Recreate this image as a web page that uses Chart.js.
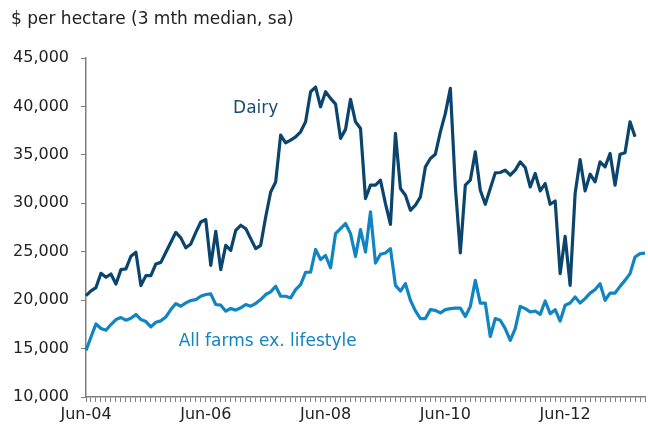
<!DOCTYPE html>
<html>
<head>
<meta charset="utf-8">
<script src="https://cdn.jsdelivr.net/npm/chart.js@4.4.1/dist/chart.umd.min.js"></script>
<style>
  html, body { margin: 0; padding: 0; background: #fff; }
  #wrap { width: 648px; height: 426px; position: relative; }
</style>
</head>
<body>
<div id="wrap"><canvas id="landChart"></canvas></div>
<script>
// monthly, Jun-04 to Oct-13
var startYear = 2004, startMonth = 5, monthCount = 113;
var tickLabels = ['Jun-04', 'Jun-06', 'Jun-08', 'Jun-10', 'Jun-12'];

var dairy = [
    20470, 20950, 21300, 22770, 22360, 22700, 21670, 23150, 23220, 24530,
    24940, 21500, 22530, 22530, 23740, 23900, 24940, 25980, 27000, 26430,
    25400, 25800, 27000, 28070, 28320, 23590, 27110, 23150, 25660, 25150,
    27210, 27730, 27390, 26350, 25320, 25660, 28590, 31170, 32200, 37040,
    36240, 36520, 36860, 37380, 38410, 41520, 42000, 39960, 41520, 40830,
    40240, 36700, 37630, 40730, 38410, 37730, 30490, 31870, 31870, 32380,
    29970, 27830, 37210, 31530, 30830, 29280, 29800, 30660, 33760, 34630,
    35070, 37380, 39280, 41870, 31690, 24870, 31870, 32380, 35310, 31350,
    29900, 31530, 33140, 33180, 33420, 32900, 33420, 34280, 33700, 31690,
    33080, 31280, 32040, 29900, 30240, 22740, 26590, 21520, 31010, 34520,
    31280, 33000, 32210, 34280, 33760, 35140, 31870, 35070, 35210, 38410,
    36860
];

var allFarms = [
    14800, 16200, 17550, 17070, 16890, 17480, 18000, 18200, 17930, 18130,
    18520, 18000, 17790, 17240, 17720, 17860, 18270, 19030, 19650, 19370,
    19720, 19960, 20060, 20400, 20580, 20650, 19550, 19480, 18860, 19140,
    18970, 19210, 19550, 19380, 19650, 20060, 20580, 20860, 21440, 20400,
    20400, 20230, 21090, 21610, 22880, 22880, 25230, 24200, 24610, 23340,
    26870, 27390, 27910, 26870, 24520, 27290, 24970, 29110, 23830, 24730,
    24870, 25320, 21530, 20940, 21700, 19990, 18890, 18100, 18100, 19020,
    18950, 18680, 19020, 19120, 19180, 19180, 18320, 19360, 22040, 19700,
    19700, 16250, 18100, 17920, 17060, 15840, 17060, 19360, 19120, 18780,
    18880, 18530, 19910, 18600, 19020, 17840, 19470, 19700, 20330, 19700,
    20160, 20730, 21090, 21700, 19990, 20730, 20730, 21420, 22040, 22740,
    24450, 24800, 24850
];

var darkBlue = '#0b456d';
var lightBlue = '#1184c2';
var font = 'DejaVu Sans';

var monthNames = ['Jan', 'Feb', 'Mar', 'Apr', 'May', 'Jun', 'Jul', 'Aug', 'Sep', 'Oct', 'Nov', 'Dec'];
var labels = [];
for (var i = 0; i < monthCount; i++) {
    var m = startMonth + i;
    var y = startYear + Math.floor(m / 12);
    labels.push(monthNames[m % 12] + '-' + String(y).slice(2));
}

// title and in-chart series names
var textPlugin = {
    id: 'texts',
    afterDraw: function(chart) {
        var c = chart.ctx;
        var xs = chart.scales.x, ys = chart.scales.y;
        c.save();
        c.font = '17px "' + font + '"';
        c.textBaseline = 'middle';
        c.fillStyle = '#222';
        c.textAlign = 'left';
        c.fillText('$ per hectare (3 mth median, sa)', 11, 20);
        c.textAlign = 'center';
        c.fillStyle = '#1b4d74';
        c.fillText('Dairy', xs.getPixelForValue(34), ys.getPixelForValue(39800));
        c.fillStyle = lightBlue;
        c.fillText('All farms ex. lifestyle', xs.getPixelForValue(36.4), ys.getPixelForValue(15700));
        c.restore();
    }
};

var ctx = document.getElementById('landChart').getContext('2d');
var landChart = new Chart(ctx, {
    type: 'line',
    data: {
        labels: labels,
        datasets: [
            { label: 'Dairy', data: dairy, borderColor: darkBlue, borderWidth: 3.2 },
            { label: 'All farms ex. lifestyle', data: allFarms, borderColor: lightBlue, borderWidth: 3.2 }
        ]
    },
    options: {
        responsive: true,
        maintainAspectRatio: false,
        animation: false,
        layout: { padding: { top: 58, right: 1, bottom: 0, left: 0 } },
        elements: { point: { radius: 0 }, line: { tension: 0, borderJoinStyle: 'round' } },
        scales: {
            x: {
                offset: false,
                afterFit: function(scale) { scale.height = 29; },
                grid: { drawOnChartArea: false, tickLength: 5, color: '#7f7f7f', tickColor: '#7f7f7f' },
                border: { color: '#7f7f7f', width: 1.5 },
                ticks: {
                    autoSkip: false,
                    maxRotation: 0,
                    padding: 3,
                    color: '#222',
                    font: { family: font, size: 16 },
                    callback: function(value, index) {
                        var l = labels[index];
                        return tickLabels.indexOf(l) >= 0 ? l : '';
                    }
                }
            },
            y: {
                min: 10000,
                max: 45000,
                afterFit: function(scale) { scale.width = 86; },
                grid: { drawOnChartArea: false, tickLength: 5, color: '#7f7f7f', tickColor: '#7f7f7f' },
                border: { color: '#7f7f7f', width: 1.5 },
                ticks: {
                    stepSize: 5000,
                    padding: 12,
                    color: '#222',
                    font: { family: font, size: 16 },
                    callback: function(v) { return v.toLocaleString('en-US'); }
                }
            }
        },
        plugins: {
            legend: { display: false },
            tooltip: { enabled: false }
        }
    },
    plugins: [textPlugin]
});
</script>
</body>
</html>
